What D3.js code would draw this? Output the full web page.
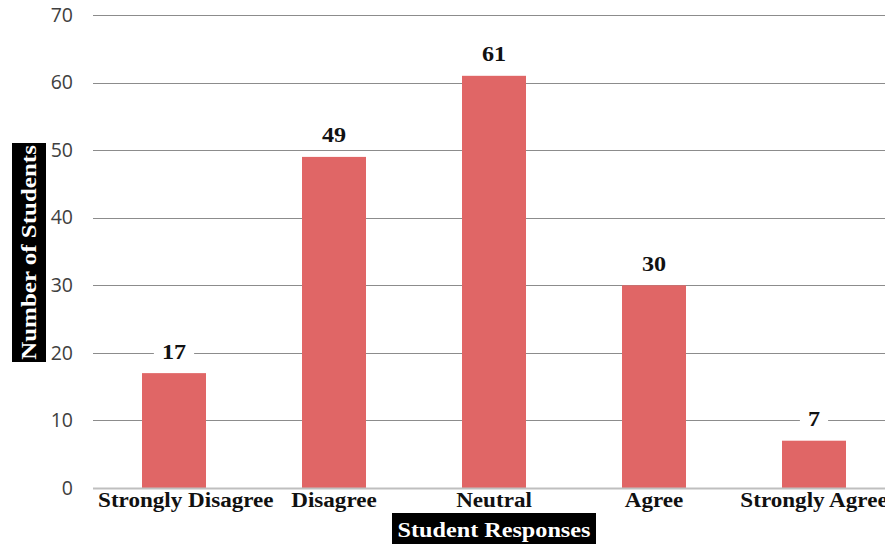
<!DOCTYPE html>
<html>
<head>
<meta charset="utf-8">
<script src="https://cdn.jsdelivr.net/npm/d3@7"></script>
<style>
  html, body { margin: 0; padding: 0; background: #fff; }
  svg { display: block; }
</style>
</head>
<body>
<svg id="chart" width="885" height="544"></svg>
<script>
// Survey responses
const categories = ["Strongly Disagree", "Disagree", "Neutral", "Agree", "Strongly Agree"];
const counts = [17, 49, 61, 30, 7];
const yTicks = [0, 10, 20, 30, 40, 50, 60, 70];
const xTitle = "Student Responses";
const yTitle = "Number of Students";

(function draw() {
  const svg = d3.select("#chart");
  const W = 885;
  const plotLeft = 94, plotRight = 894, plotTop = 15, plotBottom = 488;

  const x = d3.scaleBand().domain(categories).range([plotLeft, plotRight]).paddingInner(0.6).paddingOuter(0.3);
  const y = d3.scaleLinear().domain([0, 70]).range([plotBottom, plotTop]);

  const serif = "'Liberation Serif', 'Times New Roman', serif";
  const rows = categories.map((c, i) => ({ c, v: counts[i] }));

  // Gridlines
  svg.append("g")
    .selectAll("line")
    .data(yTicks.filter(d => d > 0))
    .join("line")
    .attr("x1", 93).attr("x2", W)
    .attr("y1", d => Math.round(y(d)) + 0.5).attr("y2", d => Math.round(y(d)) + 0.5)
    .attr("stroke", "#8c8c8c").attr("stroke-width", 1);

  // Y tick labels
  const yAxis = d3.axisLeft(y).tickValues(yTicks).tickSize(0).tickPadding(0);
  const gy = svg.append("g").attr("transform", "translate(73,0)").call(yAxis);
  gy.select(".domain").remove();
  gy.selectAll("text")
    .attr("font-family", "'Open Sans', 'Liberation Sans', sans-serif")
    .attr("font-size", 19.5)
    .attr("fill", "#404040");

  // Bars
  svg.append("g")
    .selectAll("rect")
    .data(rows)
    .join("rect")
    .attr("x", d => x(d.c))
    .attr("width", x.bandwidth())
    .attr("y", d => y(d.v))
    .attr("height", d => y(0) - y(d.v))
    .attr("fill", "#E06666");

  // Baseline
  svg.append("line")
    .attr("x1", 93).attr("x2", W)
    .attr("y1", y(0) + 0.5).attr("y2", y(0) + 0.5)
    .attr("stroke", "#bfbfbf").attr("stroke-width", 2);

  // Value labels with white backing, slightly widened bold serif
  const lbl = svg.append("g")
    .selectAll("g")
    .data(rows)
    .join("g")
    .attr("transform", d => `translate(${x(d.c) + x.bandwidth() / 2},${y(d.v) - 14.5}) scale(1.15,1)`);
  lbl.append("text")
    .attr("text-anchor", "middle")
    .attr("font-family", serif)
    .attr("font-weight", "bold")
    .attr("font-size", 21)
    .attr("fill", "#111")
    .text(d => d.v)
    .each(function () {
      const b = this.getBBox();
      d3.select(this.parentNode).insert("rect", "text")
        .attr("x", b.x - 7).attr("y", b.y)
        .attr("width", b.width + 14).attr("height", b.height)
        .attr("fill", "#fff");
    });

  // Category labels, kept inside the plot's left edge
  const catSX = 1.1;
  svg.append("g")
    .selectAll("g")
    .data(categories)
    .join("g")
    .each(function (d) {
      const g = d3.select(this);
      const t = g.append("text")
        .attr("text-anchor", "middle")
        .attr("font-family", serif)
        .attr("font-weight", "bold")
        .attr("font-size", 21)
        .attr("fill", "#111")
        .text(d);
      const half = t.node().getComputedTextLength() * catSX / 2;
      const cx = Math.max(x(d) + x.bandwidth() / 2, plotLeft + 4 + half);
      g.attr("transform", `translate(${cx},507) scale(${catSX},1)`);
    });

  // X axis title on black box
  const xt = svg.append("g").attr("transform", "translate(494,537)");
  xt.append("rect")
    .attr("x", -102).attr("y", -24).attr("width", 204).attr("height", 32)
    .attr("fill", "#000");
  xt.append("text")
    .attr("text-anchor", "middle")
    .attr("transform", "scale(1.1,1)")
    .attr("font-family", serif).attr("font-weight", "bold").attr("font-size", 22)
    .attr("fill", "#fff").text(xTitle);

  // Y axis title on black box
  const yt = svg.append("g").attr("transform", "translate(29,252.5) rotate(-90)");
  yt.append("rect")
    .attr("x", -109.5).attr("y", -17).attr("width", 219).attr("height", 34)
    .attr("fill", "#000");
  yt.append("text")
    .attr("text-anchor", "middle").attr("dy", "0.34em")
    .attr("transform", "scale(1.19,1)")
    .attr("font-family", serif).attr("font-weight", "bold").attr("font-size", 21)
    .attr("fill", "#fff").text(yTitle);
})();
</script>
</body>
</html>
